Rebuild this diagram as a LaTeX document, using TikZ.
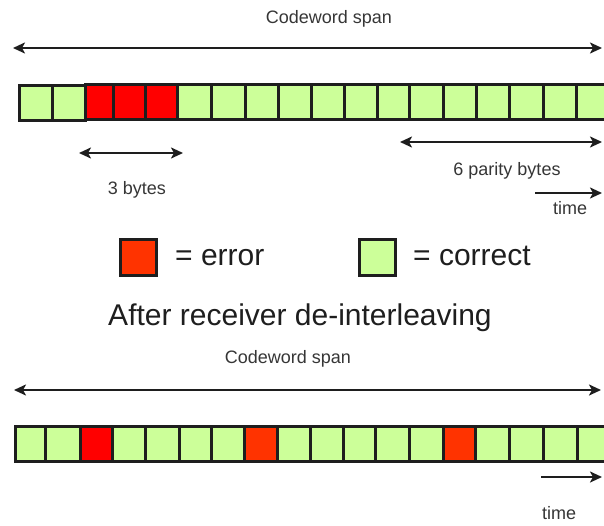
\documentclass[tikz,border=0pt]{standalone}
\usepackage{fontspec}
\setmainfont{Liberation Sans}
\usetikzlibrary{arrows.meta}
\definecolor{okgreen}{HTML}{CCFF99}
\definecolor{errred}{HTML}{FF0000}
\definecolor{errorange}{HTML}{FF3300}
\definecolor{ink}{HTML}{1E1E1E}
\definecolor{labelgray}{HTML}{363636}
\begin{document}
\begin{tikzpicture}[x=1pt,y=-1pt,
  cell/.style={draw=ink, line width=2.9pt, inner sep=0pt, anchor=north west, minimum height=35pt},
  keybox/.style={draw=ink, line width=2.9pt, inner sep=0pt, anchor=north west, minimum size=36pt},
  tipd/.tip={Stealth[length=12pt,width=11pt,inset=3pt]},
  span/.style={draw=ink, line width=2.3pt, tipd-tipd},
  fwd/.style={draw=ink, line width=2.3pt, -tipd},
  small/.style={text=labelgray, font=\fontsize{18}{21}\selectfont, inner sep=0pt, anchor=base},
  big/.style={text=ink, font=\fontsize{30}{36}\selectfont, inner sep=0pt, anchor=base}
]
\clip (0,0) rectangle (604,525);
\fill[white] (0,0) rectangle (604,525);

% ---- transmitted codeword with a burst error ----
\node[small] (spanA) at (329,23) {Codeword span};
\coordinate (spanAl) at (13,48);
\coordinate (spanAr) at (602,48);
\draw[span] (spanAl) -- (spanAr);

\foreach \a/\b/\c/\t [count=\i, evaluate=\b as \w using \b-\a] in
  {18/51/okgreen/84, 51/84/okgreen/84, 84/112/errred/83, 112/144/errred/83,
   144/176/errred/83, 176/210/okgreen/83, 210/244/okgreen/83, 244/277/okgreen/83,
   277/310/okgreen/83, 310/343/okgreen/83, 343/376/okgreen/83, 376/408/okgreen/83,
   408/442/okgreen/83, 442/475/okgreen/83, 475/508/okgreen/83, 508/542/okgreen/83,
   542/575/okgreen/83, 575/612/okgreen/83}
  \node[cell, fill=\c, minimum width=\w pt] (top\i) at (\a,\t) {};

\coordinate (burstl) at (79,153);
\coordinate (burstr) at (183,153);
\draw[span] (burstl) -- (burstr);
\node[small] (burst) at (137,194) {3 bytes};

\coordinate (parl) at (400,142);
\coordinate (parr) at (602,142);
\draw[span] (parl) -- (parr);
\node[small] (parity) at (507,175) {6 parity bytes};

\coordinate (timeAl) at (535,193);
\coordinate (timeAr) at (602,193);
\draw[fwd] (timeAl) -- (timeAr);
\node[small] (timeA) at (570,214) {time};

% ---- legend ----
\node[keybox, fill=errorange] (keyerr) at (119,238) {};
\node[big, anchor=base west] (keyerrtxt) at (175,265) {= error};
\node[keybox, fill=okgreen] (keyok) at (358,238) {};
\node[big, anchor=base west] (keyoktxt) at (413,265) {= correct};

\node[big] (title) at (300,325) {After receiver de-interleaving};

% ---- codeword after de-interleaving: errors spread out ----
\node[small] (spanB) at (288,363) {Codeword span};
\coordinate (spanBl) at (14,390);
\coordinate (spanBr) at (601,390);
\draw[span] (spanBl) -- (spanBr);

\foreach \a/\b/\c [count=\i, evaluate=\b as \w using \b-\a] in
  {14/44/okgreen, 44/79/okgreen, 79/111/errred, 111/144/okgreen,
   144/178/okgreen, 178/210/okgreen, 210/243/okgreen, 243/276/errorange,
   276/309/okgreen, 309/342/okgreen, 342/374/okgreen, 374/408/okgreen,
   408/442/okgreen, 442/474/errorange, 474/508/okgreen, 508/542/okgreen,
   542/576/okgreen, 576/612/okgreen}
  \node[cell, fill=\c, minimum width=\w pt] (bot\i) at (\a,425) {};

\coordinate (timeBl) at (541,477);
\coordinate (timeBr) at (602,477);
\draw[fwd] (timeBl) -- (timeBr);
\node[small] (timeB) at (559,519) {time};
\end{tikzpicture}
\end{document}
